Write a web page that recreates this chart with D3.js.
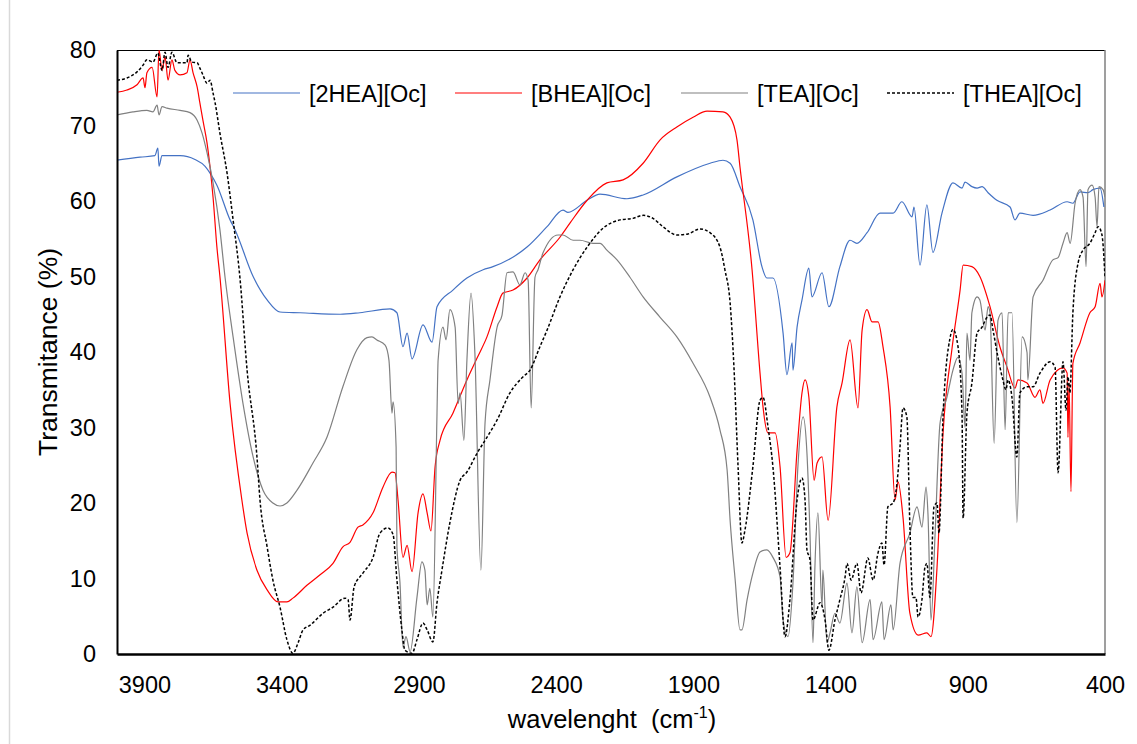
<!DOCTYPE html>
<html><head><meta charset="utf-8">
<script src="https://cdn.jsdelivr.net/npm/d3@7/dist/d3.min.js"></script>
<style>body{margin:0;background:#fff;}svg{display:block;font-family:"Liberation Sans",Arial,sans-serif;}</style>
</head><body><svg id="c" width="1137" height="744"></svg>
<script>
const seriesNames = ["[2HEA][Oc]", "[BHEA][Oc]", "[TEA][Oc]", "[THEA][Oc]"];
const xTicks = [3900, 3400, 2900, 2400, 1900, 1400, 900, 400];
const yTicks = [0, 10, 20, 30, 40, 50, 60, 70, 80];

const hea2_wn = [4000,3916,3862,3851,3847,3836,3770,3716,3679,3661,3636,3588,3570,3504,3453,3406,3333,3187,3115,3005,2980,2958,2943,2925,2885,2852,2834,2776,2725,2666,2630,2506,2433,2375,2357,2287,2240,2142,2083,1960,1839,1792,1766,1730,1683,1650,1632,1610,1573,1559,1540,1537,1522,1504,1479,1468,1431,1406,1366,1329,1304,1267,1220,1172,1140,1103,1096,1074,1049,1027,994,954,921,910,885,866,848,826,794,746,728,710,662,600,538,517,491,462,444,418,404];
const hea2_T = [65.4,65.8,66.0,67.0,64.6,66.0,66.0,65.5,64.6,63.7,62.1,57.5,56.2,50.0,46.9,45.3,45.2,45.0,45.2,45.7,45.2,40.7,42.5,39.1,43.6,41.3,46.0,48.2,49.8,50.9,51.3,53.9,56.6,58.8,58.5,60.1,60.9,60.3,60.8,63.2,65.0,65.4,65.0,61.9,57.5,51.3,49.8,49.8,42.5,37.0,41.2,37.6,43.3,46.9,51.1,47.3,50.5,46.0,51.3,54.8,54.4,55.8,58.4,58.4,59.9,57.9,59.2,51.5,59.5,53.2,58.4,62.4,61.7,62.5,61.9,61.7,61.9,61.1,60.1,59.2,57.5,58.4,58.1,58.8,59.9,59.7,61.2,61.1,61.5,61.7,59.2];

const bhea_wn = [4000,3964,3927,3905,3898,3891,3872,3854,3847,3836,3825,3814,3800,3789,3770,3745,3734,3723,3708,3698,3687,3672,3661,3650,3636,3625,3588,3545,3526,3490,3453,3413,3381,3359,3308,3260,3213,3177,3151,3122,3104,3067,3031,2998,2987,2976,2958,2943,2925,2903,2885,2870,2856,2841,2823,2776,2725,2688,2652,2615,2594,2557,2506,2459,2386,2349,2287,2215,2156,2083,2021,1960,1901,1850,1792,1766,1741,1730,1686,1657,1646,1628,1602,1584,1562,1548,1522,1504,1493,1479,1460,1449,1431,1409,1377,1358,1329,1300,1285,1267,1249,1227,1209,1183,1165,1154,1136,1111,1081,1049,1034,1012,990,958,928,917,885,856,819,783,757,728,717,684,655,637,626,600,553,538,535,531,524,517,491,455,436,418,411,400];
const bhea_T = [74.4,74.7,75.4,76.3,75.0,77.0,77.7,73.8,80.0,77.3,79.1,76.0,78.7,77.3,76.7,77.0,78.7,77.0,75.1,73.0,70.7,67.7,64.5,60.5,53.9,50.0,33.2,20.4,16.0,11.1,8.5,6.9,6.9,7.4,9.1,10.5,12.0,14.2,14.8,16.8,17.1,18.7,22.1,24.1,24.0,20.4,12.8,14.4,10.9,18.7,21.2,18.7,16.3,24.8,28.3,31.9,36.3,39.2,42.0,46.0,47.8,48.2,49.8,52.2,55.2,57.1,60.1,62.4,62.8,65.0,68.1,69.8,71.1,71.9,71.8,71.1,68.1,64.5,50.9,37.2,32.7,29.3,29.3,24.8,12.8,13.4,27.0,34.6,36.3,34.0,23.0,25.3,26.1,17.7,32.7,35.9,41.6,32.6,42.9,45.6,44.0,44.0,40.7,32.7,20.4,22.8,18.1,5.4,2.5,2.8,2.3,11.5,29.3,40.3,48.2,51.5,51.3,50.0,46.0,40.7,38.0,35.2,36.3,35.9,34.0,35.0,33.2,36.3,37.9,37.2,28.7,35.9,21.5,38.5,41.2,45.2,46.0,49.1,47.3,49.5];

const tea_wn = [4000,3942,3891,3869,3854,3847,3836,3818,3770,3734,3708,3690,3672,3650,3625,3606,3577,3541,3504,3468,3432,3406,3381,3344,3286,3235,3177,3126,3089,3071,3053,3023,3009,2998,2994,2983,2980,2969,2958,2947,2932,2907,2889,2878,2870,2860,2849,2834,2830,2812,2801,2787,2768,2757,2750,2736,2725,2710,2696,2674,2659,2641,2615,2597,2579,2557,2532,2513,2502,2491,2477,2466,2448,2393,2375,2338,2313,2266,2240,2215,2178,2131,2083,2021,1960,1901,1839,1803,1777,1766,1748,1730,1723,1704,1683,1657,1632,1610,1584,1573,1555,1537,1519,1500,1486,1475,1464,1457,1446,1431,1428,1413,1402,1384,1366,1340,1322,1304,1285,1256,1245,1213,1205,1180,1172,1147,1111,1085,1067,1052,1045,1034,1019,1001,976,954,936,921,910,903,892,885,866,856,837,826,819,804,790,775,764,753,739,721,702,684,681,662,626,590,571,553,538,527,509,491,480,469,462,447,436,429,422,407,400];
const tea_T = [71.4,71.8,72.0,71.8,72.7,71.4,72.5,72.3,72.0,71.7,70.7,69.0,66.4,62.4,56.2,49.8,42.0,33.2,26.1,21.7,20.0,19.6,20.0,21.7,25.3,28.7,35.4,40.3,41.9,42.0,41.6,40.9,38.9,31.9,33.4,27.4,14.2,9.5,0.9,2.3,0.3,7.5,12.2,11.1,6.5,8.7,4.9,31.9,38.9,43.3,41.6,45.6,43.3,33.2,34.6,28.3,38.9,47.8,39.9,11.1,30.6,36.3,43.3,44.9,50.5,50.6,48.9,50.5,49.5,32.6,49.9,50.9,53.1,55.5,55.5,54.8,54.8,54.4,54.4,53.5,52.2,49.9,47.3,44.6,42.0,38.5,34.0,29.7,24.4,17.7,10.0,3.2,3.2,7.2,10.7,13.5,13.8,12.8,10.2,4.5,2.3,9.4,24.8,31.4,26.6,16.0,1.5,11.5,18.7,6.2,11.1,1.5,2.8,5.4,4.1,9.4,2.8,8.9,1.5,7.2,1.9,6.9,1.9,6.5,3.2,12.0,16.0,19.5,16.8,22.1,18.5,4.5,16.0,30.6,34.0,37.6,39.3,37.2,30.0,42.5,38.9,45.2,47.3,46.9,42.9,46.0,45.2,27.9,44.2,45.2,29.7,45.2,45.2,17.4,42.0,39.9,36.3,47.3,49.5,52.2,52.5,54.4,55.8,54.4,59.7,61.5,60.5,51.3,61.5,62.1,60.5,56.6,61.9,61.5,60.5];

const thea_wn = [4000,3964,3927,3905,3891,3869,3851,3836,3825,3814,3800,3781,3745,3741,3727,3708,3698,3687,3672,3661,3650,3643,3625,3599,3577,3552,3526,3490,3479,3453,3432,3406,3381,3359,3340,3322,3297,3249,3213,3169,3158,3151,3136,3104,3067,3042,3013,2994,2980,2962,2951,2925,2907,2885,2870,2849,2834,2816,2787,2750,2725,2688,2659,2615,2568,2521,2495,2459,2433,2386,2338,2287,2229,2167,2120,2083,2047,2011,1960,1923,1876,1839,1803,1785,1766,1752,1737,1723,1712,1683,1657,1646,1628,1610,1584,1566,1548,1522,1504,1493,1486,1475,1464,1438,1420,1406,1384,1366,1347,1340,1325,1304,1289,1264,1245,1227,1213,1205,1191,1172,1158,1147,1136,1122,1111,1100,1089,1081,1067,1056,1049,1038,1023,1012,1005,990,965,954,936,921,917,903,885,866,848,830,819,808,790,772,761,753,739,721,710,684,662,637,600,582,571,553,542,535,528,517,498,480,455,436,425,411,400];
const thea_T = [76.0,76.3,77.1,78.0,78.7,78.4,79.6,77.3,79.7,77.7,79.7,78.3,78.3,79.3,78.4,78.3,77.6,76.7,75.6,76.0,74.3,73.1,69.0,63.7,57.5,49.8,37.6,26.1,20.4,14.2,9.8,6.2,1.9,0.1,1.5,3.2,3.8,5.4,6.2,7.4,7.2,4.5,8.9,10.7,12.8,16.0,16.7,15.8,9.8,3.2,0.5,0.1,1.9,4.1,3.2,1.6,6.8,11.1,17.4,23.0,24.1,26.6,28.3,31.0,34.6,36.7,37.6,40.7,42.9,47.3,50.9,53.9,56.4,57.5,57.7,58.1,57.7,56.6,55.5,55.6,56.3,55.8,53.9,50.9,46.5,38.0,24.8,14.7,16.4,24.8,33.6,34.0,30.1,24.8,11.5,2.3,7.2,20.4,23.3,20.4,13.8,12.5,4.5,6.8,4.5,0.5,4.5,7.2,10.2,12.0,9.8,12.0,8.1,12.7,9.8,13.4,14.7,11.8,19.5,20.0,22.6,27.4,32.6,31.4,17.0,7.5,7.5,4.9,7.2,11.5,12.0,7.5,19.5,20.0,16.0,31.6,41.8,43.0,40.8,31.9,18.0,31.9,35.9,42.5,43.3,44.6,44.9,42.9,39.3,36.3,35.0,36.3,34.0,26.1,34.6,35.4,35.4,37.2,38.7,38.0,24.0,38.7,32.3,36.7,34.6,45.2,51.8,53.5,54.4,55.8,56.6,55.5,49.9];

const series = [
  {name: seriesNames[0], wn: hea2_wn, t: hea2_T, color: "#4472C4", dash: null, w: 1.2},
  {name: seriesNames[1], wn: bhea_wn, t: bhea_T, color: "#FF0000", dash: null, w: 1.2},
  {name: seriesNames[2], wn: tea_wn, t: tea_T, color: "#808080", dash: null, w: 1.2},
  {name: seriesNames[3], wn: thea_wn, t: thea_T, color: "#000000", dash: "3,2", w: 1.5}
];

const svg = d3.select("#c");
const L = 117, R = 1105, T = 50, B = 654;
const x = d3.scaleLinear().domain([4000, 400]).range([L, R]);
const y = d3.scaleLinear().domain([0, 80]).range([B, T]);

// outer chart border (left side visible)
svg.append("line").attr("x1", 9.5).attr("x2", 9.5).attr("y1", 0).attr("y2", 744)
  .attr("stroke", "#d9d9d9").attr("stroke-width", 1.5);

// plot area frame
svg.append("line").attr("x1", L).attr("x2", R).attr("y1", T + 0.5).attr("y2", T + 0.5).attr("stroke", "#000").attr("stroke-width", 1.2);
svg.append("line").attr("x1", R).attr("x2", R).attr("y1", T).attr("y2", B).attr("stroke", "#7f7f7f").attr("stroke-width", 1.5);

svg.append("clipPath").attr("id", "pc").append("rect")
  .attr("x", L).attr("y", T).attr("width", R - L).attr("height", B - T);

const line = d3.line().curve(d3.curveMonotoneX);
const g = svg.append("g").attr("clip-path", "url(#pc)");
series.forEach(s => {
  const pts = s.wn.map((w, i) => [x(w), y(s.t[i])]);
  g.append("path").attr("d", line(pts)).attr("fill", "none")
    .attr("stroke", s.color).attr("stroke-width", s.w)
    .attr("stroke-dasharray", s.dash).attr("stroke-linejoin", "round");
});

// axes
const xAxis = d3.axisBottom(x).tickValues(xTicks).tickSize(0).tickPadding(22).tickFormat(d3.format("d"));
const gx = svg.append("g").attr("transform", `translate(0,${B})`).call(xAxis);
gx.select(".domain").attr("stroke", "#000").attr("stroke-width", 2.4);
gx.selectAll("text").attr("font-size", 23.5).attr("fill", "#000").attr("font-family", "Liberation Sans, Arial, sans-serif");

const yAxis = d3.axisLeft(y).tickValues(yTicks).tickSize(0).tickPadding(21);
const gy = svg.append("g").attr("transform", `translate(${L},0)`).call(yAxis);
gy.select(".domain").attr("stroke", "#000").attr("stroke-width", 2);
gy.selectAll("text").attr("font-size", 23.5).attr("fill", "#000").attr("font-family", "Liberation Sans, Arial, sans-serif");

// axis titles
const xt = svg.append("text").attr("x", 612).attr("y", 728).attr("text-anchor", "middle")
  .attr("font-size", 25.5).attr("fill", "#000");
xt.append("tspan").text("wavelenght\u00a0 (cm");
xt.append("tspan").attr("font-size", 16).attr("dy", -10).text("-1");
xt.append("tspan").attr("dy", 10).text(")");

svg.append("text").attr("transform", "translate(57,352) rotate(-90)").attr("text-anchor", "middle")
  .attr("font-size", 26.5).attr("fill", "#000").text("Transmitance (%)");

// legend
const legX = [233, 455, 681, 887];
series.forEach((s, i) => {
  svg.append("line").attr("x1", legX[i]).attr("x2", legX[i] + 67).attr("y1", 93).attr("y2", 93)
    .attr("stroke", s.color).attr("stroke-width", s.w).attr("stroke-dasharray", s.dash);
  svg.append("text").attr("x", legX[i] + 76).attr("y", 102).attr("font-size", 23.5).attr("fill", "#000").text(s.name);
});
</script></body></html>
